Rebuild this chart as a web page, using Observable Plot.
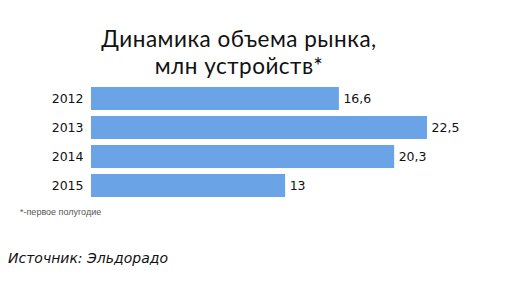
<!DOCTYPE html>
<html><head><meta charset="utf-8">
<script src="https://cdn.jsdelivr.net/npm/d3@7"></script>
<script src="https://cdn.jsdelivr.net/npm/@observablehq/plot@0.6"></script>
<style>
body{margin:0;background:#fff;width:512px;height:282px;overflow:hidden;position:relative;font-family:"DejaVu Sans",sans-serif;}
.t{position:absolute;left:0;width:478px;text-align:center;font-family:Lato,sans-serif;font-size:22.5px;line-height:27px;letter-spacing:0.5px;color:#111;white-space:nowrap;}
#t1{top:25px;}
#t2{top:52px;}
#chart{position:absolute;left:0;top:80px;}
#note{position:absolute;left:20px;top:207px;font-size:9px;color:#555;font-family:"Liberation Sans",Arial,sans-serif;}
#src{position:absolute;left:8px;top:250px;font-size:14px;font-style:italic;color:#111;}
</style></head><body>
<div class="t" id="t1">Динамика объема рынка,</div>
<div class="t" id="t2">млн устройств*</div>
<div id="chart"></div>
<div id="note">*-первое полугодие</div>
<div id="src">Источник: Эльдорадо</div>
<script>
const years = ["2012", "2013", "2014", "2015"];
const values = [16.6, 22.5, 20.3, 13];
const data = years.map((y, i) => ({year: y, value: values[i]}));
const fmt = v => String(v).replace(".", ",");
const chart = Plot.plot({
  width: 512, height: 125,
  marginLeft: 91, marginRight: 85, marginTop: 6, marginBottom: 8,
  x: {domain: [0, 22.5], axis: null},
  y: {domain: years, paddingInner: 0.22, paddingOuter: 0, label: null, tickSize: 0, tickPadding: 8},
  style: {fontFamily: "DejaVu Sans, sans-serif", fontSize: "12.5px", color: "#111"},
  marks: [
    Plot.barX(data, {x: "value", y: "year", fill: "#6aa3e6"}),
    Plot.text(data, {x: "value", y: "year", text: d => fmt(d.value), textAnchor: "start", dx: 4, fill: "#111", fontSize: 12.5})
  ]
});
document.getElementById("chart").append(chart);
</script>
</body></html>
